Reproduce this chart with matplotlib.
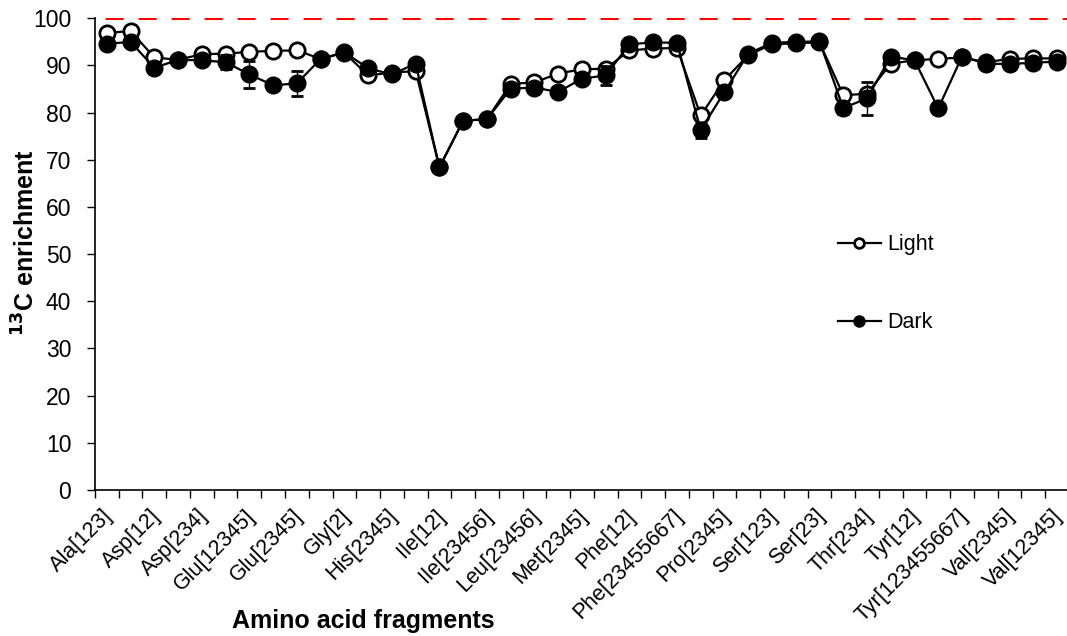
import matplotlib
matplotlib.use("Agg")
import matplotlib.pyplot as plt
from matplotlib.lines import Line2D
from matplotlib.transforms import ScaledTranslation
import numpy as np

plt.rcParams['font.family'] = ['Liberation Sans', 'DejaVu Sans']

# Fragment tick labels (every other fragment is labelled in the chart)
tick_labels = ["Ala[123]", "Asp[12]", "Asp[234]", "Glu[12345]", "Glu[2345]", "Gly[2]",
               "His[2345]", "Ile[12]", "Ile[23456]", "Leu[23456]", "Met[2345]", "Phe[12]",
               "Phe[23455667]", "Pro[2345]", "Ser[123]", "Ser[23]", "Thr[234]", "Tyr[12]",
               "Tyr[123455667]", "Val[2345]", "Val[12345]"]

light = [96.9, 97.3, 91.7, 91.2, 92.4, 92.5, 92.9, 93.1, 93.2, 91.4,
         92.7, 87.9, 88.5, 88.8, 68.4, 78.3, 78.6, 86.1, 86.4, 88.3,
         89.2, 89.3, 93.2, 93.6, 93.7, 79.4, 86.9, 92.2, 94.5, 94.7,
         94.9, 83.7, 84.0, 90.4, 91.1, 91.4, 91.7, 90.7, 91.4, 91.5, 91.5]
dark = [94.6, 95.0, 89.5, 91.2, 91.1, 90.7, 88.1, 85.8, 86.2, 91.4,
        92.8, 89.4, 88.1, 90.4, 68.4, 78.3, 78.6, 85.1, 85.3, 84.4,
        87.2, 87.9, 94.5, 94.9, 94.8, 76.3, 84.4, 92.5, 94.8, 95.0,
        95.1, 81.0, 83.0, 91.9, 91.1, 80.9, 91.9, 90.4, 90.3, 90.6, 90.8]
light_err = [0.3] * 41
dark_err = [0.3, 0.3, 0.3, 0.3, 1.1, 1.5, 2.8, 0.8, 2.6, 0.3,
            0.3, 0.3, 0.3, 0.3, 0.3, 0.3, 0.3, 0.3, 0.3, 0.3,
            0.5, 2.0, 0.3, 0.3, 0.3, 1.6, 0.3, 0.3, 0.3, 0.3,
            0.3, 1.2, 3.5, 0.3, 0.3, 0.3, 0.3, 0.3, 0.3, 0.3, 0.3]
reference_level = 100

x = np.arange(len(light))

fig = plt.figure(figsize=(10.67, 6.36), dpi=100)
ax = fig.add_axes([0.089, 0.2296, 0.9128, 0.7416])

ax.axhline(reference_level, color='#ff0000', lw=2.2, linestyle=(7.5, (5.9, 4.9)),
           dash_capstyle='butt', zorder=1)

ax.errorbar(x, light, yerr=light_err, color='black', lw=1.6, marker='o', ms=11,
            mfc='white', mec='black', mew=2, capsize=4, elinewidth=1, ecolor='black',
            zorder=3)
ax.errorbar(x, dark, yerr=dark_err, color='black', lw=1.6, marker='o', ms=11,
            mfc='black', mec='black', mew=2, capsize=4, elinewidth=1, ecolor='black',
            zorder=4)

ax.set_xlim(-0.5, len(light) - 0.5)
ax.set_ylim(0, 100)
ax.set_yticks(np.arange(0, 101, 10))
ax.tick_params(axis='y', labelsize=16.5, length=6, width=1, direction='out', pad=11)

ax.set_xticks(x[::2])
ax.set_xticklabels(tick_labels, rotation=45, ha='right', rotation_mode='anchor', fontsize=15.5)
ax.set_xticks(np.arange(-0.5, len(light), 1), minor=True)
ax.tick_params(axis='x', which='major', length=0, pad=14)
ax.tick_params(axis='x', which='minor', length=6, width=1, direction='out')
shift = ScaledTranslation(-0.05, 0.04, fig.dpi_scale_trans)
for lab in ax.get_xticklabels():
    lab.set_transform(lab.get_transform() + shift)

for s in ['top', 'right']:
    ax.spines[s].set_visible(False)
for s in ['left', 'bottom']:
    ax.spines[s].set_linewidth(1.2)

ax.set_ylabel('$\\mathbf{^{13}}$C enrichment', fontsize=18, fontweight='bold', va='center')
ax.yaxis.set_label_coords((26 - 95) / 974, (490 - 243) / 472)
ax.set_xlabel('Amino acid fragments', fontsize=18, fontweight='bold')
ax.xaxis.set_label_coords((363 - 95) / 974, -(621 - 490) / 472)
ax.xaxis.label.set_va('center')

handles = [Line2D([], [], color='black', lw=1.6, marker='o', ms=7, mfc='white', mec='black', mew=2),
           Line2D([], [], color='black', lw=1.6, marker='o', ms=7, mfc='black', mec='black', mew=2)]
ax.legend(handles, ['Light', 'Dark'], loc='upper left', bbox_to_anchor=((838 - 95) / 974, (490 - 234) / 472),
          frameon=False, fontsize=15.5, labelspacing=2.65, handlelength=2.0, handletextpad=0.3,
          borderpad=0, borderaxespad=0)

fig.savefig('out.png', dpi=100)
